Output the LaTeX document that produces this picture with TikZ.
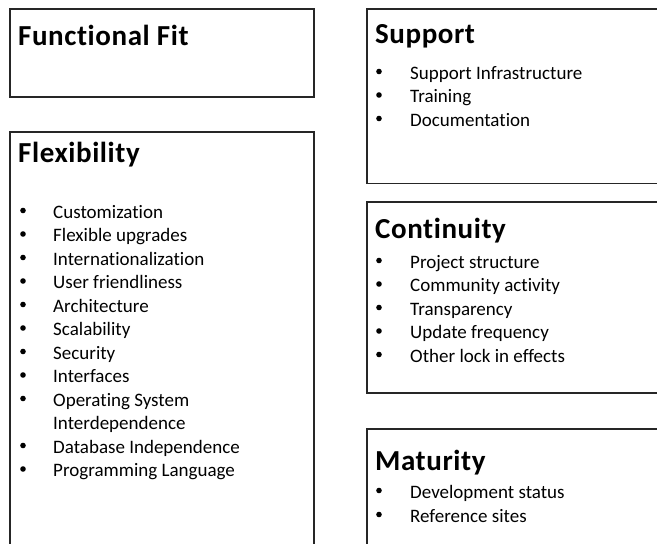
\documentclass[tikz,border=0pt]{standalone}
\usepackage{fontspec}
\setmainfont{Carlito}[RawFeature=-liga]
\newfontfamily\headingfont{Carlito}[RawFeature=-liga, LetterSpace=2]
% one bulleted entry: name, bullet x, text x, baseline y, text
\newcommand\listentry[5]{%
  \node[entry] (#1) at (#3,#4) {#5};
  \node[bulletdot] (#1-dot) at ({#2},{#4-7.5}) {};}
\begin{document}
\begin{tikzpicture}[x=1pt,y=-1pt,
  panel/.style={draw=black!85, line width=1.5pt, anchor=north west,
    inner sep=0pt, outer sep=0pt, rectangle},
  heading/.style={anchor=base west, inner sep=0pt,
    font=\headingfont\fontsize{29}{29}\selectfont\bfseries},
  entry/.style={anchor=base west, inner sep=0pt,
    font=\fontsize{19}{19}\selectfont},
  bulletdot/.style={circle, fill=black, inner sep=0pt, minimum size=5.6pt}]
\useasboundingbox (0,0) rectangle (657,544);
\clip (0,0) rectangle (657,544);

% panels
\node[panel, minimum width=304pt, minimum height=88pt] (fitbox) at (10,9) {};
\node[panel, minimum width=304pt, minimum height=450pt] (flexbox) at (10,132) {};
\node[panel, minimum width=330pt, minimum height=174.5pt] (supbox) at (367,9) {};
\node[panel, minimum width=330pt, minimum height=191pt] (conbox) at (367,202) {};
\node[panel, minimum width=330pt, minimum height=150pt] (matbox) at (367,429) {};

% left column
\node[heading] (fit) at (18,45) {Functional Fit};
\node[heading] (flex) at (18,162) {Flexibility};
\listentry{f1}{23}{53}{218}{Customization}
\listentry{f2}{23}{53}{241.5}{Flexible upgrades}
\listentry{f3}{23}{53}{265}{Internationalization}
\listentry{f4}{23}{53}{288.5}{User friendliness}
\listentry{f5}{23}{53}{312}{Architecture}
\listentry{f6}{23}{53}{335.5}{Scalability}
\listentry{f7}{23}{53}{359}{Security}
\listentry{f8}{23}{53}{382.5}{Interfaces}
\listentry{f9}{23}{53}{406}{Operating System}
\node[entry] (f9b) at (53,429.5) {Interdependence};
\listentry{f10}{23}{53}{453}{Database Independence}
\listentry{f11}{23}{53}{476.5}{Programming Language}

% right column
\node[heading] (sup) at (375,43) {Support};
\listentry{s1}{379}{410}{79}{Support Infrastructure}
\listentry{s2}{379}{410}{102.5}{Training}
\listentry{s3}{379}{410}{126}{Documentation}

\node[heading] (con) at (375,238) {Continuity};
\listentry{c1}{379}{410}{268}{Project structure}
\listentry{c2}{379}{410}{291.5}{Community activity}
\listentry{c3}{379}{410}{315}{Transparency}
\listentry{c4}{379}{410}{338.5}{Update frequency}
\listentry{c5}{379}{410}{362}{Other lock in effects}

\node[heading] (mat) at (375,470) {Maturity};
\listentry{m1}{379}{410}{498}{Development status}
\listentry{m2}{379}{410}{522}{Reference sites}
\end{tikzpicture}
\end{document}
